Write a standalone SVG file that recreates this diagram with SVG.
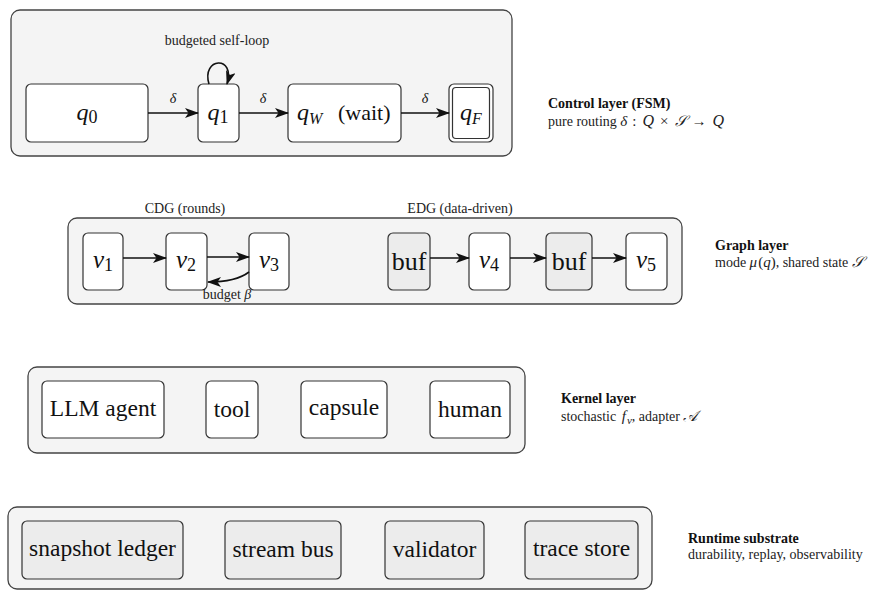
<svg xmlns="http://www.w3.org/2000/svg" width="883" height="590" viewBox="0 0 883 590">
<style>
.dg-layer{fill:#f4f4f4;stroke:#444;stroke-width:1.3}
.dg-node{fill:#fff;stroke:#333;stroke-width:1.2}
.dg-gnode{fill:#ececec;stroke:#333;stroke-width:1.2}
.dg-edge{fill:none;stroke:#111;stroke-width:1.6}
text{font-family:'Liberation Serif','Times New Roman',serif}
.dg-txt{fill:#111}
.dg-math{font-style:italic;fill:#111}
.dg-cap{font-size:14px;fill:#222}
.dg-head{font-size:14px;font-weight:bold;fill:#111}
.dg-desc{font-size:14px;fill:#222}
.it{font-style:italic}
</style>
<defs>
<marker id="ah" viewBox="0 0 14 10" refX="13" refY="5" markerWidth="14" markerHeight="10" markerUnits="userSpaceOnUse" orient="auto">
<path d="M0,0 L14,5 L0,10 L3.5,5 z" fill="#111"/>
</marker>
</defs>

<!-- Layer containers -->
<g id="control-layer"><rect class="dg-layer" x="11" y="10" width="501" height="146" rx="9"/></g>
<g id="graph-layer"><rect class="dg-layer" x="68" y="218" width="614" height="86" rx="9"/></g>
<g id="kernel-layer"><rect class="dg-layer" x="28" y="367" width="497" height="86" rx="9"/></g>
<g id="runtime-layer"><rect class="dg-layer" x="8" y="507" width="644" height="82" rx="9"/></g>

<!-- Control layer nodes -->
<g id="q0"><rect class="dg-node" x="26" y="84" width="122" height="58" rx="5"/>
<text class="dg-math" x="87" y="120" font-size="24" text-anchor="middle">q<tspan font-style="normal" font-size="18" dy="3">0</tspan></text></g>
<g id="q1"><rect class="dg-node" x="198" y="84" width="41" height="58" rx="5"/>
<text class="dg-math" x="218" y="120" font-size="24" text-anchor="middle">q<tspan font-style="normal" font-size="18" dy="3">1</tspan></text></g>
<g id="qW"><rect class="dg-node" x="288" y="84" width="113" height="58" rx="5"/>
<text class="dg-math" x="297" y="120" font-size="24">q<tspan font-size="16" dy="4">W</tspan><tspan x="338" font-style="normal" font-size="22" dy="-4">(wait)</tspan></text></g>
<g id="qF"><rect class="dg-node" x="449" y="84" width="44" height="58" rx="5"/>
<rect fill="none" stroke="#333" stroke-width="1.2" x="452.5" y="87.5" width="37" height="51" rx="3.5"/>
<text class="dg-math" x="460" y="120" font-size="24">q<tspan font-size="16" dy="4">F</tspan></text></g>

<!-- Graph layer nodes -->
<g id="v1"><rect class="dg-node" x="83" y="233" width="40" height="57" rx="5"/>
<text class="dg-math" x="103" y="268" font-size="25" text-anchor="middle">v<tspan font-style="normal" font-size="18" dy="3">1</tspan></text></g>
<g id="v2"><rect class="dg-node" x="166" y="233" width="41" height="57" rx="5"/>
<text class="dg-math" x="186" y="268" font-size="25" text-anchor="middle">v<tspan font-style="normal" font-size="18" dy="3">2</tspan></text></g>
<g id="v3"><rect class="dg-node" x="249" y="233" width="40" height="57" rx="5"/>
<text class="dg-math" x="269" y="268" font-size="25" text-anchor="middle">v<tspan font-style="normal" font-size="18" dy="3">3</tspan></text></g>
<g id="buf1"><rect class="dg-gnode" x="388" y="233" width="42" height="57" rx="5"/>
<text class="dg-txt" x="409" y="270" font-size="26" text-anchor="middle">buf</text></g>
<g id="v4"><rect class="dg-node" x="469" y="233" width="41" height="57" rx="5"/>
<text class="dg-math" x="489" y="268" font-size="25" text-anchor="middle">v<tspan font-style="normal" font-size="18" dy="3">4</tspan></text></g>
<g id="buf2"><rect class="dg-gnode" x="546" y="233" width="46" height="57" rx="5"/>
<text class="dg-txt" x="569" y="270" font-size="26" text-anchor="middle">buf</text></g>
<g id="v5"><rect class="dg-node" x="626" y="233" width="41" height="57" rx="5"/>
<text class="dg-math" x="646" y="268" font-size="25" text-anchor="middle">v<tspan font-style="normal" font-size="18" dy="3">5</tspan></text></g>

<!-- Kernel layer nodes -->
<g id="llm-agent"><rect class="dg-node" x="42" y="381" width="122" height="57" rx="5"/>
<text class="dg-txt" x="103" y="416" font-size="23.5" text-anchor="middle">LLM agent</text></g>
<g id="tool"><rect class="dg-node" x="206" y="381" width="52" height="57" rx="5"/>
<text class="dg-txt" x="232" y="417" font-size="23.5" text-anchor="middle">tool</text></g>
<g id="capsule"><rect class="dg-node" x="301" y="381" width="86" height="57" rx="5"/>
<text class="dg-txt" x="344" y="415" font-size="23.5" text-anchor="middle">capsule</text></g>
<g id="human"><rect class="dg-node" x="430" y="381" width="80" height="57" rx="5"/>
<text class="dg-txt" x="470" y="417" font-size="23.5" text-anchor="middle">human</text></g>

<!-- Runtime nodes -->
<g id="snapshot-ledger"><rect class="dg-gnode" x="22" y="521" width="161" height="58" rx="5"/>
<text class="dg-txt" x="102.5" y="556" font-size="23.5" text-anchor="middle">snapshot ledger</text></g>
<g id="stream-bus"><rect class="dg-gnode" x="225" y="521" width="116" height="58" rx="5"/>
<text class="dg-txt" x="283" y="557" font-size="23.5" text-anchor="middle">stream bus</text></g>
<g id="validator"><rect class="dg-gnode" x="385" y="521" width="99" height="58" rx="5"/>
<text class="dg-txt" x="434.5" y="557" font-size="23.5" text-anchor="middle">validator</text></g>
<g id="trace-store"><rect class="dg-gnode" x="525" y="521" width="113" height="58" rx="5"/>
<text class="dg-txt" x="581.5" y="556" font-size="23.5" text-anchor="middle">trace store</text></g>

<!-- Connectors -->
<g id="connectors">
<path class="dg-edge" d="M148,113 L198,113" marker-end="url(#ah)"/>
<path class="dg-edge" d="M239,113 L288,113" marker-end="url(#ah)"/>
<path class="dg-edge" d="M401,113 L449,113" marker-end="url(#ah)"/>
<path class="dg-edge" d="M209,84 C201,57 236,55 227,84" marker-end="url(#ah)"/>
<path class="dg-edge" d="M123,258 L166,258" marker-end="url(#ah)"/>
<path class="dg-edge" d="M207,257 L249,257" marker-end="url(#ah)"/>
<path class="dg-edge" d="M249,272 Q236,282 208,282" marker-end="url(#ah)"/>
<path class="dg-edge" d="M430,258 L469,258" marker-end="url(#ah)"/>
<path class="dg-edge" d="M510,258 L546,258" marker-end="url(#ah)"/>
<path class="dg-edge" d="M592,258 L626,258" marker-end="url(#ah)"/>
</g>

<!-- Edge labels -->
<g id="edge-labels">
<text class="dg-math" x="173" y="103" font-size="14" text-anchor="middle">δ</text>
<text class="dg-math" x="263" y="103" font-size="14" text-anchor="middle">δ</text>
<text class="dg-math" x="425" y="103" font-size="14" text-anchor="middle">δ</text>
<text class="dg-cap" x="217" y="45" text-anchor="middle">budgeted self-loop</text>
<text class="dg-cap" x="227" y="299" text-anchor="middle">budget <tspan class="it">β</tspan></text>
<text class="dg-cap" x="185" y="213" text-anchor="middle">CDG (rounds)</text>
<text class="dg-cap" x="460" y="213" text-anchor="middle">EDG (data-driven)</text>
</g>

<!-- Layer descriptions -->
<g id="descriptions">
<text class="dg-head" x="548" y="108">Control layer (FSM)</text>
<text class="dg-desc" x="548" y="126">pure routing <tspan class="it" font-size="15">δ</tspan><tspan dx="5" font-size="15">:</tspan><tspan class="it" dx="6" font-size="16">Q</tspan><tspan dx="6" font-size="15">×</tspan><tspan class="it" dx="6" font-size="15">𝒮</tspan><tspan dx="5" font-size="15">→</tspan><tspan class="it" dx="6" font-size="16">Q</tspan></text>
<text class="dg-head" x="715" y="250">Graph layer</text>
<text class="dg-desc" x="715" y="267">mode <tspan class="it" font-size="15">μ</tspan><tspan dx="1" font-size="15">(</tspan><tspan class="it" font-size="15">q</tspan><tspan font-size="15">)</tspan>, shared state <tspan class="it" font-size="15">𝒮</tspan></text>
<text class="dg-head" x="561" y="403">Kernel layer</text>
<text class="dg-desc" x="561" y="421">stochastic <tspan class="it" dx="2" font-size="15">f</tspan><tspan class="it" font-size="11" dx="1" dy="3">v</tspan><tspan dy="-3">, adapter </tspan><tspan class="it" font-size="15">𝒜</tspan></text>
<text class="dg-head" x="688" y="543">Runtime substrate</text>
<text class="dg-desc" x="688" y="559">durability, replay, observability</text>
</g>
</svg>
